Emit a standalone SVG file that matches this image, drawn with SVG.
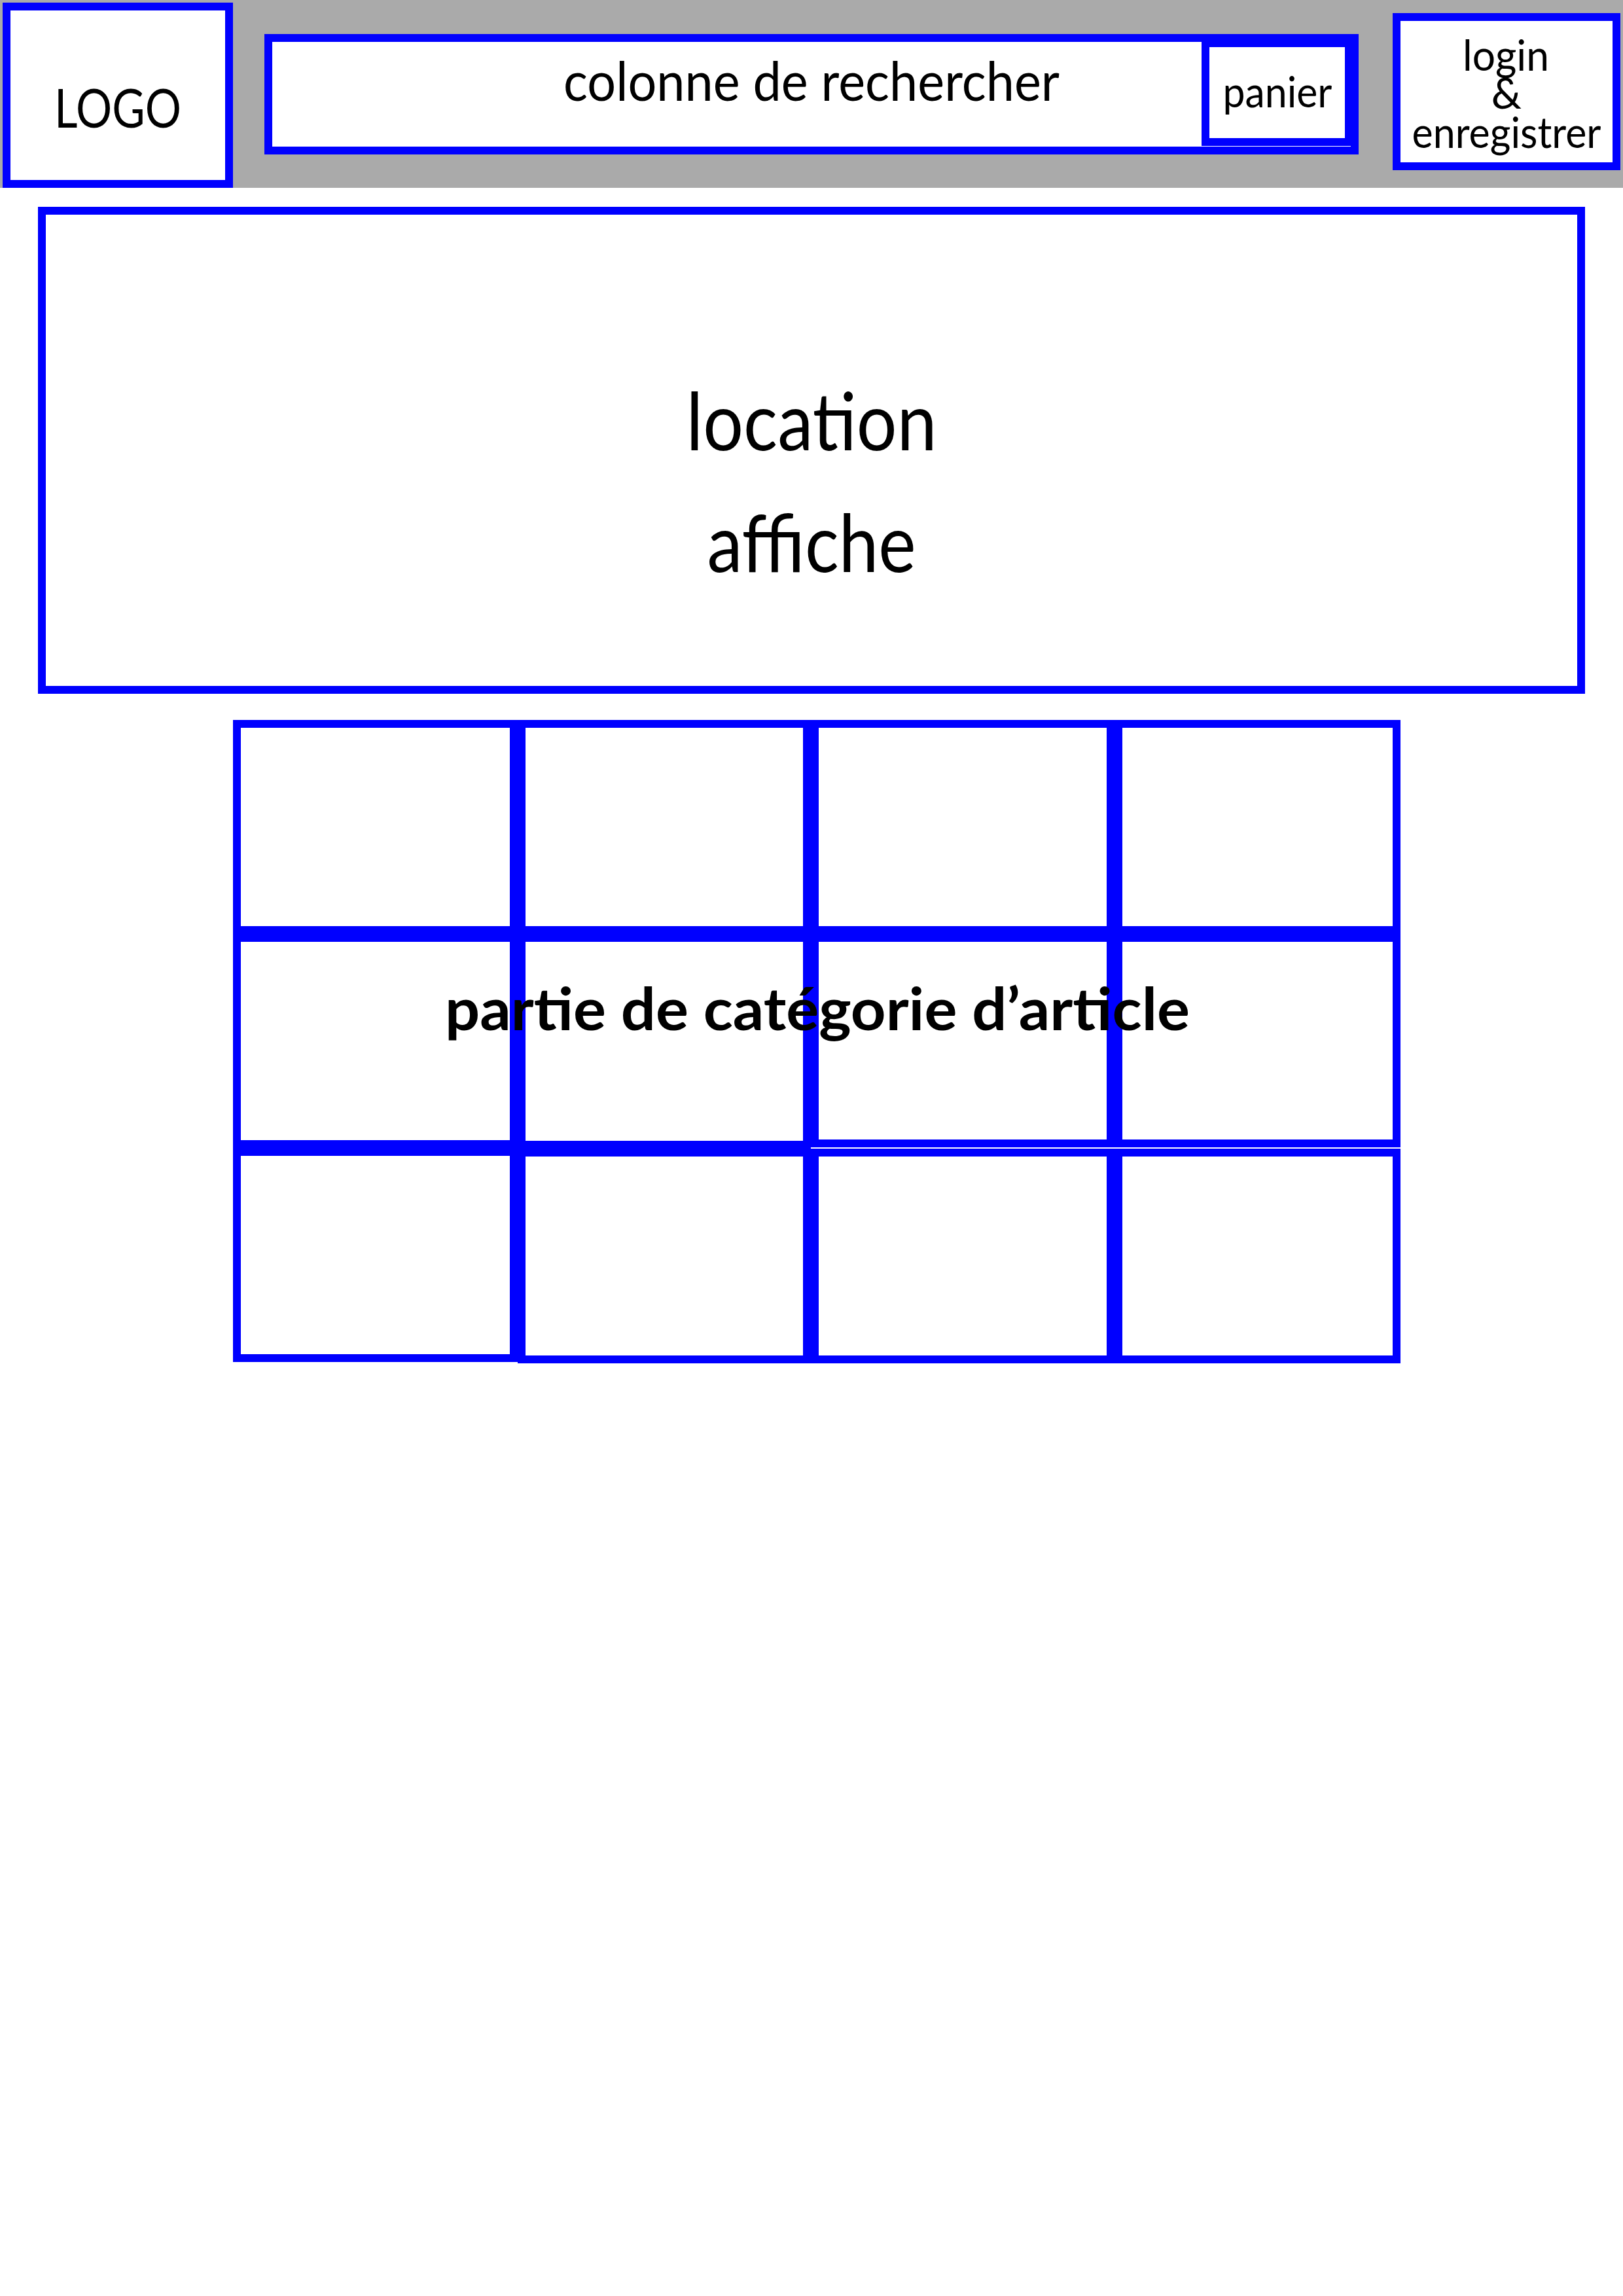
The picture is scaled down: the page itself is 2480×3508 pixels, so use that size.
<svg xmlns="http://www.w3.org/2000/svg" width="2480" height="3508" viewBox="0 0 2480 3508">
  <style>
    .box { fill: #ffffff; stroke: #0000ff; stroke-width: 12; }
    .t { font-family: "Lato", "Open Sans", "Liberation Sans", sans-serif; fill: #000000; text-anchor: middle; }
    .b { font-weight: bold; }
  </style>
  <rect x="0" y="0" width="2480" height="3508" fill="#ffffff"/>
  <g id="header">
    <rect x="0" y="0" width="2480" height="287" fill="#aaaaaa"/>
  </g>
  <g id="logo">
    <rect class="box" x="10" y="10" width="340" height="271"/>
    <text class="t" x="180" y="195" font-size="81" textLength="194" lengthAdjust="spacingAndGlyphs">LOGO</text>
  </g>
  <g id="recherche">
    <rect class="box" x="410" y="58" width="1660" height="172"/>
    <text class="t" x="1240" y="154" font-size="83" textLength="758" lengthAdjust="spacingAndGlyphs">colonne de rechercher</text>
  </g>
  <g id="panier">
    <rect class="box" x="1842" y="66" width="219" height="151"/>
    <text class="t" x="1952" y="164" font-size="65" textLength="167" lengthAdjust="spacingAndGlyphs">panier</text>
  </g>
  <g id="login">
    <rect class="box" x="2134" y="26" width="336" height="228"/>
    <text class="t" x="2301" y="108" font-size="65" textLength="132" lengthAdjust="spacingAndGlyphs">login</text>
    <text class="t" x="2302" y="166" font-size="65">&amp;</text>
    <text class="t" x="2302" y="226" font-size="65" textLength="289" lengthAdjust="spacingAndGlyphs">enregistrer</text>
  </g>
  <g id="location-affiche">
    <rect class="box" x="64" y="322" width="2352" height="732"/>
    <text class="t" x="1240" y="688" font-size="122" textLength="383" lengthAdjust="spacingAndGlyphs">location</text>
    <text class="t" x="1240" y="874" font-size="122" textLength="319" lengthAdjust="spacingAndGlyphs">affiche</text>
  </g>
  <g id="categories">
    <rect class="box" x="362" y="1106" width="423" height="315"/>
    <rect class="box" x="797" y="1106" width="436" height="315"/>
    <rect class="box" x="1245" y="1106" width="452" height="315"/>
    <rect class="box" x="1709" y="1106" width="425" height="315"/>
    <rect class="box" x="362" y="1433" width="423" height="315"/>
    <rect class="box" x="797" y="1433" width="436" height="316"/>
    <rect class="box" x="1245" y="1433" width="452" height="314"/>
    <rect class="box" x="1709" y="1433" width="425" height="314"/>
    <rect class="box" x="362" y="1760" width="423" height="315"/>
    <rect class="box" x="797" y="1761" width="436" height="316"/>
    <rect class="box" x="1245" y="1761" width="452" height="316"/>
    <rect class="box" x="1709" y="1761" width="425" height="316"/>
    <text class="t b" x="1249" y="1574" font-size="90" textLength="1138" lengthAdjust="spacingAndGlyphs">partie de catégorie d’article</text>
  </g>
</svg>
